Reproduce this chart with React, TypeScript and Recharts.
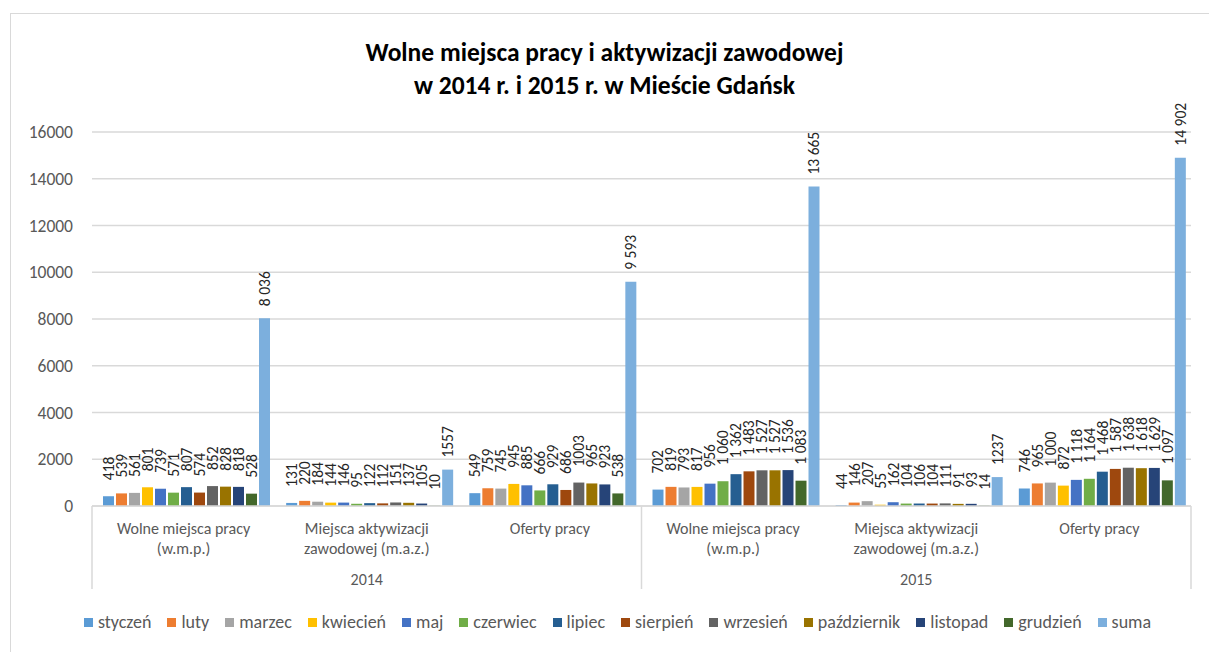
import React from 'react';
import { BarChart, Bar, XAxis, YAxis, CartesianGrid, Legend, LabelList } from 'recharts';

// ---- data ----
const categories = [
  'Wolne miejsca pracy|(w.m.p.)',
  'Miejsca aktywizacji|zawodowej (m.a.z.)',
  'Oferty pracy',
  'Wolne miejsca pracy|(w.m.p.)',
  'Miejsca aktywizacji|zawodowej (m.a.z.)',
  'Oferty pracy',
];
const years = ['2014', '2014', '2014', '2015', '2015', '2015'];

const seriesNames = [
  'styczeń', 'luty', 'marzec', 'kwiecień', 'maj', 'czerwiec', 'lipiec',
  'sierpień', 'wrzesień', 'październik', 'listopad', 'grudzień', 'suma',
];
const seriesColors = [
  '#5B9BD5', '#ED7D31', '#A5A5A5', '#FFC000', '#4472C4', '#70AD47', '#255E91',
  '#9E480E', '#636363', '#997300', '#264478', '#43682B', '#7CAFDD',
];

// values per group (12 months + suma)
const wmp2014 = [418, 539, 561, 801, 739, 571, 807, 574, 852, 828, 818, 528, 8036];
const maz2014 = [131, 220, 184, 144, 146, 95, 122, 112, 151, 137, 105, 10, 1557];
const oferty2014 = [549, 759, 745, 945, 885, 666, 929, 686, 1003, 965, 923, 538, 9593];
const wmp2015 = [702, 819, 793, 817, 956, 1060, 1362, 1483, 1527, 1527, 1536, 1083, 13665];
const maz2015 = [44, 146, 207, 55, 162, 104, 106, 104, 111, 91, 93, 14, 1237];
const oferty2015 = [746, 965, 1000, 872, 1118, 1164, 1468, 1587, 1638, 1618, 1629, 1097, 14902];
const groups = [wmp2014, maz2014, oferty2014, wmp2015, maz2015, oferty2015];

// label formatting: thousands separated by a space?
const spacedMonthLabels = [true, false, false, true, true, true];
const spacedSumLabels = [true, false, true, true, false, true];

const yTicks = [0, 2000, 4000, 6000, 8000, 10000, 12000, 14000, 16000];

const data = categories.map((c, i) => {
  const row: any = { cat: c + '#' + i, year: years[i] };
  seriesNames.forEach((s, k) => {
    row[s] = groups[i][k];
  });
  return row;
});

// ---- layout ----
const W = 1209;
const H = 652;
const PLOT_LEFT = 92;
const PLOT_RIGHT = 1191;
const PLOT_TOP = 132;
const PLOT_BOTTOM = 506;
const AXIS_BOTTOM = 589;
const LEGEND_H = 22;
const PLOT_W = PLOT_RIGHT - PLOT_LEFT;
const FONT = "Carlito, Calibri, 'Liberation Sans', Arial, sans-serif";
const TEXT = '#595959';
const GRID = '#d9d9d9';

const fmt = (v: number, spaced: boolean) =>
  spaced ? String(v).replace(/\B(?=(\d{3})+(?!\d))/g, ' ') : String(v);

const makeLabel = (isSum: boolean) => (props: any) => {
  const { x, y, width, value, index } = props;
  if (value == null) return null;
  const cx = Number(x) + Number(width) / 2;
  const ty = Number(y) - (isSum ? 12 : 16);
  const spaced = isSum ? spacedSumLabels[index] : spacedMonthLabels[index];
  return (
    <text
      x={cx}
      y={ty}
      transform={`rotate(-90 ${cx} ${ty})`}
      textAnchor="start"
      dominantBaseline="central"
      fontSize={15.5}
      fontFamily={FONT}
      fill="#262626"
    >
      {fmt(Number(value), spaced)}
    </text>
  );
};

const CatTick = (props: any) => {
  const { x, payload } = props;
  const label = String(payload.value).split('#')[0];
  const lines = label.split('|');
  return (
    <g>
      {lines.map((l, i) => (
        <text
          key={i}
          x={x}
          y={528 + i * 20}
          textAnchor="middle"
          dominantBaseline="central"
          fontSize={16}
          fontFamily={FONT}
          fill={TEXT}
        >
          {l}
        </text>
      ))}
    </g>
  );
};

const YearTick = (props: any) => {
  const { x, payload, index } = props;
  const half = PLOT_W / 4;
  return (
    <g>
      <text
        x={x}
        y={579}
        textAnchor="middle"
        dominantBaseline="central"
        fontSize={16}
        fontFamily={FONT}
        fill={TEXT}
      >
        {payload.value}
      </text>
      {index === 0 && (
        <line x1={x - half} x2={x - half} y1={PLOT_BOTTOM} y2={AXIS_BOTTOM} stroke={GRID} strokeWidth={1.5} />
      )}
      <line x1={x + half} x2={x + half} y1={PLOT_BOTTOM} y2={AXIS_BOTTOM} stroke={GRID} strokeWidth={1.5} />
    </g>
  );
};

const LegendContent = (props: any) => {
  const payload = props.payload || [];
  return (
    <div
      style={{
        display: 'flex',
        justifyContent: 'center',
        alignItems: 'center',
        height: LEGEND_H,
        paddingLeft: 26,
        fontSize: 18,
        fontFamily: FONT,
        color: TEXT,
        whiteSpace: 'nowrap',
      }}
    >
      {payload.map((p: any, i: number) => (
        <div
          key={p.value}
          style={{ display: 'flex', alignItems: 'center', marginRight: i === payload.length - 1 ? 0 : 16 }}
        >
          <span style={{ display: 'inline-block', width: 9, height: 9, background: p.color, marginRight: 5 }} />
          <span>{p.value}</span>
        </div>
      ))}
    </div>
  );
};

export default function App() {
  return (
    <div
      style={{
        position: 'absolute',
        left: 0,
        top: 0,
        width: W,
        height: H,
        overflow: 'hidden',
        background: '#fff',
        fontFamily: FONT,
      }}
    >
      <div
        style={{
          position: 'absolute',
          left: 10,
          top: 13,
          width: W + 20,
          height: H + 20,
          border: `1.5px solid ${GRID}`,
          boxSizing: 'border-box',
        }}
      />
      <div
        style={{
          position: 'absolute',
          left: 0,
          top: 36,
          width: W,
          textAlign: 'center',
          fontWeight: 'bold',
          fontSize: 25.5,
          lineHeight: '33px',
          color: '#000',
        }}
      >
        <div>Wolne miejsca pracy i aktywizacji zawodowej</div>
        <div>w 2014 r. i 2015 r. w Mieście Gdańsk</div>
      </div>
      <div style={{ position: 'absolute', left: 0, top: 0 }}>
        <BarChart
          width={W}
          height={H}
          data={data}
          margin={{ top: PLOT_TOP, right: W - PLOT_RIGHT, left: 0, bottom: H - AXIS_BOTTOM - LEGEND_H }}
          barCategoryGap={11}
          barGap={2}
        >
          <CartesianGrid vertical={false} stroke={GRID} strokeWidth={1.5} xAxisId="cat" />
          <XAxis
            xAxisId="cat"
            dataKey="cat"
            height={55}
            axisLine={{ stroke: GRID, strokeWidth: 1.5 }}
            tickLine={false}
            interval={0}
            tick={<CatTick />}
          />
          <XAxis
            xAxisId="year"
            dataKey="year"
            height={28}
            allowDuplicatedCategory={false}
            axisLine={false}
            tickLine={false}
            interval={0}
            tick={<YearTick />}
          />
          <YAxis
            width={PLOT_LEFT}
            domain={[0, 16000]}
            ticks={yTicks}
            axisLine={false}
            tickLine={false}
            tickSize={6}
            tickMargin={13}
            tick={{ fontSize: 17.5, fill: TEXT, fontFamily: FONT }}
          />
          <Legend
            layout="horizontal"
            align="center"
            verticalAlign="bottom"
            itemSorter={null as any}
            wrapperStyle={{ top: 611, left: 0, width: W }}
            content={<LegendContent />}
          />
          {seriesNames.map((s, k) => (
            <Bar
              key={s}
              xAxisId="cat"
              dataKey={s}
              name={s}
              fill={seriesColors[k]}
              isAnimationActive={false}
            >
              <LabelList dataKey={s} content={makeLabel(s === 'suma')} />
            </Bar>
          ))}
        </BarChart>
      </div>
    </div>
  );
}
